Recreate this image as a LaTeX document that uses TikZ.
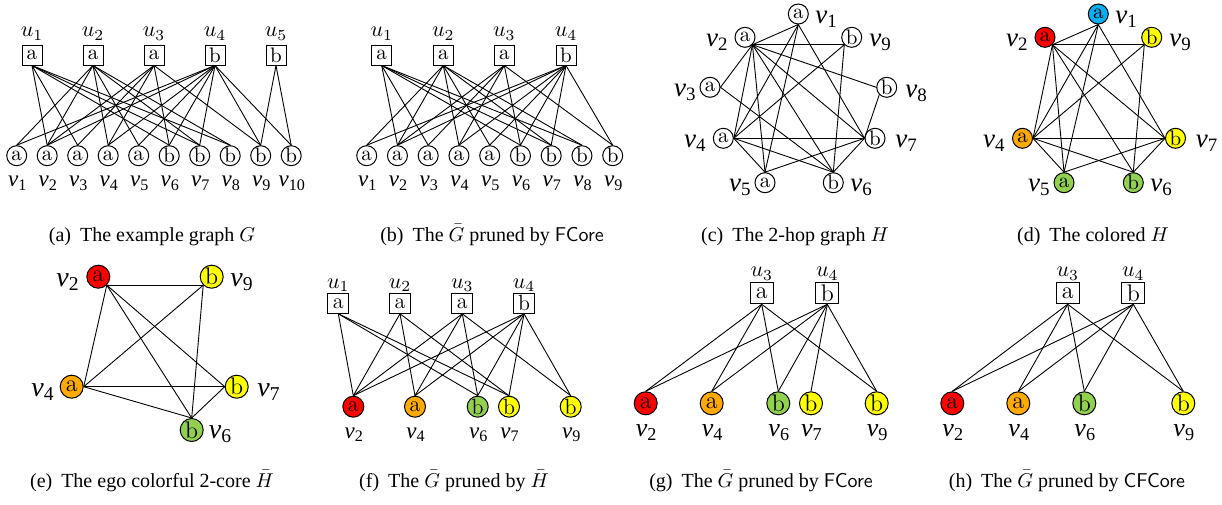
\documentclass[tikz,border=0pt]{standalone}
\usepackage{fix-cm}
\usepackage{fontspec}
\newfontfamily\tms{Liberation Serif}
\definecolor{cred}{RGB}{255,0,0}
\definecolor{corange}{RGB}{255,170,0}
\definecolor{cgreen}{RGB}{146,208,80}
\definecolor{cyellow}{RGB}{255,255,0}
\definecolor{cblue}{RGB}{0,176,240}
\newcommand{\vl}[1]{{\tms\itshape v\/\textsubscript{\upshape #1}}}
\tikzset{
 ed/.style={line width=0.45pt},
 vn/.style={circle, draw, line width=0.5pt, inner sep=0pt, minimum size=10pt, font=\fontsize{10.5}{11}\selectfont},
 vnm/.style={vn, minimum size=10.5pt, font=\fontsize{11}{12}\selectfont},
 vnb/.style={vn, minimum size=11.5pt, font=\fontsize{12}{13}\selectfont},
 un/.style={rectangle, draw, line width=0.5pt, inner sep=0pt, minimum width=10pt, minimum height=10pt, font=\fontsize{10.5}{11}\selectfont},
 unm/.style={un, minimum width=10.5pt, font=\fontsize{11}{12}\selectfont},
 unb/.style={un, minimum width=11.5pt, minimum height=10.5pt, font=\fontsize{12}{13}\selectfont},
 ul/.style={anchor=base, inner sep=0pt, font=\fontsize{11}{12}\selectfont},
 vls/.style={anchor=base, inner sep=0pt, font=\fontsize{11.5}{13}\selectfont},
 vlm/.style={anchor=base, inner sep=0pt, font=\fontsize{13}{15}\selectfont},
 hl/.style={inner sep=0pt, font=\fontsize{13.5}{16}\selectfont},
 el/.style={inner sep=0pt, font=\fontsize{14}{16}\selectfont},
 captxt/.style={anchor=base, inner sep=0pt, font=\tms\fontsize{10}{12}\selectfont},
}
\begin{document}
\begin{tikzpicture}[x=0.5pt,y=-0.5pt]
\useasboundingbox (0,0) rectangle (1222,504);

% ---------------- (a) ----------------
\foreach \i/\x/\l in {1/32/a,2/93/a,3/154/a,4/215/b,5/276/b}{
  \node[un] (au\i) at (\x,55) {\l};
  \node[ul] (aul\i) at (\x,36.7) {$u_{\i}$};
}
\foreach \i/\l in {1/a,2/a,3/a,4/a,5/a,6/b,7/b,8/b,9/b,10/b}{
  \node[vn] (av\i) at ({16.7+30.5*(\i-1)},155.7) {\l};
  \node[vls] (avl\i) at ({16.7+30.5*(\i-1)+1},186.7) {\vl{\i}};
}
\foreach \u/\v in {1/2,1/3,1/6,1/7,1/8, 2/1,2/2,2/4,2/5,2/7,2/8, 3/2,3/3,3/4,3/6,3/9, 4/1,4/2,4/4,4/5,4/6,4/7,4/9,4/10, 5/9,5/10}
  \draw[ed] (au\u.south) -- (av\v.north);
\node[captxt] (capa) at (152,241) {(a)\hspace{0.45em}The example graph $G$};

% ---------------- (b) ----------------
\foreach \i/\x/\l in {1/381.7/a,2/443.3/a,3/504.3/a,4/566/b}{
  \node[un] (bu\i) at (\x,55) {\l};
  \node[ul] (bul\i) at (\x,36.7) {$u_{\i}$};
}
\foreach \i/\l in {1/a,2/a,3/a,4/a,5/a,6/b,7/b,8/b,9/b}{
  \node[vn] (bv\i) at ({366.7+30.75*(\i-1)},155.7) {\l};
  \node[vls] (bvl\i) at ({366.7+30.75*(\i-1)+1},186.7) {\vl{\i}};
}
\foreach \u/\v in {1/2,1/3,1/6,1/7,1/8, 2/1,2/2,2/4,2/5,2/7,2/8, 3/2,3/3,3/4,3/6,3/9, 4/1,4/2,4/4,4/5,4/6,4/7,4/9}
  \draw[ed] (bu\u.south) -- (bv\v.north);
\node[captxt] (capb) at (492,241) {(b)\hspace{0.45em}The $\bar{G}$ pruned by \textsf{FCore}};

% ---------------- (c) ----------------
\node[vn] (c1) at (798.3,14) {a};
\node[vn] (c2) at (745,37.3) {a};
\node[vn] (c9) at (851.7,37.3) {b};
\node[vn] (c3) at (710,87.3) {a};
\node[vn] (c8) at (886.7,87.3) {b};
\node[vn] (c4) at (723.3,138.3) {a};
\node[vn] (c7) at (875,138.3) {b};
\node[vn] (c5) at (765,182.7) {a};
\node[vn] (c6) at (833.3,182.7) {b};
\coordinate (cp1) at (c1.south);
\coordinate (cp2) at (c2.south east);
\coordinate (cp9) at (c9.south west);
\coordinate (cp3) at (c3.east);
\coordinate (cp4) at (c4.east);
\coordinate (cp7) at (c7.west);
\coordinate (cp5) at (c5.north);
\coordinate (cp6) at (c6.north);
\foreach \a/\b in {1/2,1/4,1/5,1/7,2/3,2/4,2/5,2/6,2/7,2/9,3/6,4/5,4/6,4/7,4/9,5/7,6/7,6/9}
  \draw[ed] (cp\a) -- (cp\b);
\draw[ed] (cp2) -- (c8.west);
\draw[ed] (c8.south west) -- (cp7);
\node[hl, anchor=base west] (cl1) at (815,23.5) {\vl{1}};
\node[hl, anchor=base east] (cl2) at (729,46.5) {\vl{2}};
\node[hl, anchor=base west] (cl9) at (869,46.5) {\vl{9}};
\node[hl, anchor=base east] (cl3) at (697,96) {\vl{3}};
\node[hl, anchor=base west] (cl8) at (905,97) {\vl{8}};
\node[hl, anchor=base east] (cl4) at (707,147) {\vl{4}};
\node[hl, anchor=base west] (cl7) at (895,147) {\vl{7}};
\node[hl, anchor=base east] (cl5) at (752,191) {\vl{5}};
\node[hl, anchor=base west] (cl6) at (850,191) {\vl{6}};
\node[captxt] (capc) at (795,241) {(c)\hspace{0.45em}The 2-hop graph $H$};

% ---------------- (d) ----------------
\node[vn, fill=cblue] (d1) at (1098.3,14) {a};
\node[vn, fill=cred] (d2) at (1045,37.3) {a};
\node[vn, fill=cyellow] (d9) at (1151.7,37.3) {b};
\node[vn, fill=corange] (d4) at (1022.5,138.3) {a};
\node[vn, fill=cyellow] (d7) at (1175.5,138.3) {b};
\node[vn, fill=cgreen] (d5) at (1064,182.7) {a};
\node[vn, fill=cgreen] (d6) at (1133.3,182.7) {b};
\coordinate (dp1) at (d1.south);
\coordinate (dp2) at (d2.south east);
\coordinate (dp9) at (d9.south west);
\coordinate (dp4) at (d4.east);
\coordinate (dp7) at (d7.west);
\coordinate (dp5) at (d5.north);
\coordinate (dp6) at (d6.north);
\foreach \a/\b in {1/2,1/4,1/5,1/7,2/4,2/5,2/6,2/7,2/9,4/5,4/6,4/7,4/9,5/7,6/7,6/9}
  \draw[ed] (dp\a) -- (dp\b);
\node[hl, anchor=base west] (dl1) at (1115,23.5) {\vl{1}};
\node[hl, anchor=base east] (dl2) at (1029,46.5) {\vl{2}};
\node[hl, anchor=base west] (dl9) at (1169,46.5) {\vl{9}};
\node[hl, anchor=base east] (dl4) at (1006,147) {\vl{4}};
\node[hl, anchor=base west] (dl7) at (1195.5,147) {\vl{7}};
\node[hl, anchor=base east] (dl5) at (1051,191) {\vl{5}};
\node[hl, anchor=base west] (dl6) at (1150,191) {\vl{6}};
\node[captxt] (capd) at (1093,241) {(d)\hspace{0.45em}The colored $H$};

% ---------------- (e) ----------------
\node[vnb, fill=cred] (e2) at (98.3,276.7) {a};
\node[vnb, fill=cyellow] (e9) at (211.7,276.7) {b};
\node[vnb, fill=corange] (e4) at (71.7,386.7) {a};
\node[vnb, fill=cyellow] (e7) at (236.7,386.7) {b};
\node[vnb, fill=cgreen] (e6) at (191.7,430) {b};
\coordinate (ep2) at (e2.south east);
\coordinate (ep9) at (e9.south west);
\coordinate (ep4) at (e4.east);
\coordinate (ep7) at (e7.west);
\coordinate (ep6) at (e6.north);
\foreach \a/\b in {2/9,2/4,2/6,2/7,9/4,9/6,4/7,4/6,7/6}
  \draw[ed] (ep\a) -- (ep\b);
\node[el, anchor=base east] (el2) at (80,286.7) {\vl{2}};
\node[el, anchor=base west] (el9) at (230,286.7) {\vl{9}};
\node[el, anchor=base east] (el4) at (55,396.7) {\vl{4}};
\node[el, anchor=base west] (el7) at (257,396.7) {\vl{7}};
\node[el, anchor=base west] (el6) at (208.5,438.3) {\vl{6}};
\node[captxt] (cape) at (152,487) {(e)\hspace{0.45em}The ego colorful 2-core $\bar{H}$};

% ---------------- (f) ----------------
\foreach \i/\x/\l in {1/338.3/a,2/400/a,3/462.3/a,4/524/b}{
  \node[unm] (fu\i) at (\x,303.3) {\l};
  \node[ul] (ful\i) at (\x,288.3) {$u_{\i}$};
}
\node[vnm, fill=cred] (fv2) at (353.3,406.7) {a};
\node[vnm, fill=corange] (fv4) at (415,406.7) {a};
\node[vnm, fill=cgreen] (fv6) at (477.7,406.7) {b};
\node[vnm, fill=cyellow] (fv7) at (509,406.7) {b};
\node[vnm, fill=cyellow] (fv9) at (570.7,406.7) {b};
\foreach \i/\x in {2/353.3,4/415,6/477.7,7/509,9/570.7}
  \node[vls] (fvl\i) at (\x+1,438.3) {\vl{\i}};
\foreach \u/\v in {1/2,1/6,1/7, 2/2,2/4,2/7, 3/2,3/4,3/6,3/9, 4/2,4/4,4/6,4/7,4/9}
  \draw[ed] (fu\u.south) -- (fv\v.north);
\node[captxt] (capf) at (454,487) {(f)\hspace{0.45em}The $\bar{G}$ pruned by $\bar{H}$};

% ---------------- (g) ----------------
\foreach \i/\x/\l in {3/761.7/a,4/827.3/b}{
  \node[unb] (gu\i) at (\x,293.3) {\l};
  \node[ul] (gul\i) at (\x,276.7) {$u_{\i}$};
}
\node[vnb, fill=cred] (gv2) at (645.7,403.3) {a};
\node[vnb, fill=corange] (gv4) at (711.7,403.3) {a};
\node[vnb, fill=cgreen] (gv6) at (778.3,403.3) {b};
\node[vnb, fill=cyellow] (gv7) at (811,403.3) {b};
\node[vnb, fill=cyellow] (gv9) at (876.7,403.3) {b};
\foreach \i/\x in {2/645.7,4/711.7,6/778.3,7/811,9/876.7}
  \node[vlm] (gvl\i) at (\x+1,436.7) {\vl{\i}};
\foreach \u/\v in {3/2,3/4,3/6,3/9, 4/2,4/4,4/6,4/7,4/9}
  \draw[ed] (gu\u.south) -- (gv\v.north);
\node[captxt] (capg) at (761,487) {(g)\hspace{0.45em}The $\bar{G}$ pruned by \textsf{FCore}};

% ---------------- (h) ----------------
\foreach \i/\x/\l in {3/1067.7/a,4/1133.3/b}{
  \node[unb] (hu\i) at (\x,293.3) {\l};
  \node[ul] (hul\i) at (\x,276.7) {$u_{\i}$};
}
\node[vnb, fill=cred] (hv2) at (952.3,403.3) {a};
\node[vnb, fill=corange] (hv4) at (1018.3,403.3) {a};
\node[vnb, fill=cgreen] (hv6) at (1084.3,403.3) {b};
\node[vnb, fill=cyellow] (hv9) at (1183.3,403.3) {b};
\foreach \i/\x in {2/952.3,4/1018.3,6/1084.3,9/1183.3}
  \node[vlm] (hvl\i) at (\x+1,436.7) {\vl{\i}};
\foreach \u/\v in {3/2,3/4,3/6,3/9, 4/2,4/4,4/6,4/9}
  \draw[ed] (hu\u.south) -- (hv\v.north);
\node[captxt] (caph) at (1067,487) {(h)\hspace{0.45em}The $\bar{G}$ pruned by \textsf{CFCore}};
\end{tikzpicture}
\end{document}
